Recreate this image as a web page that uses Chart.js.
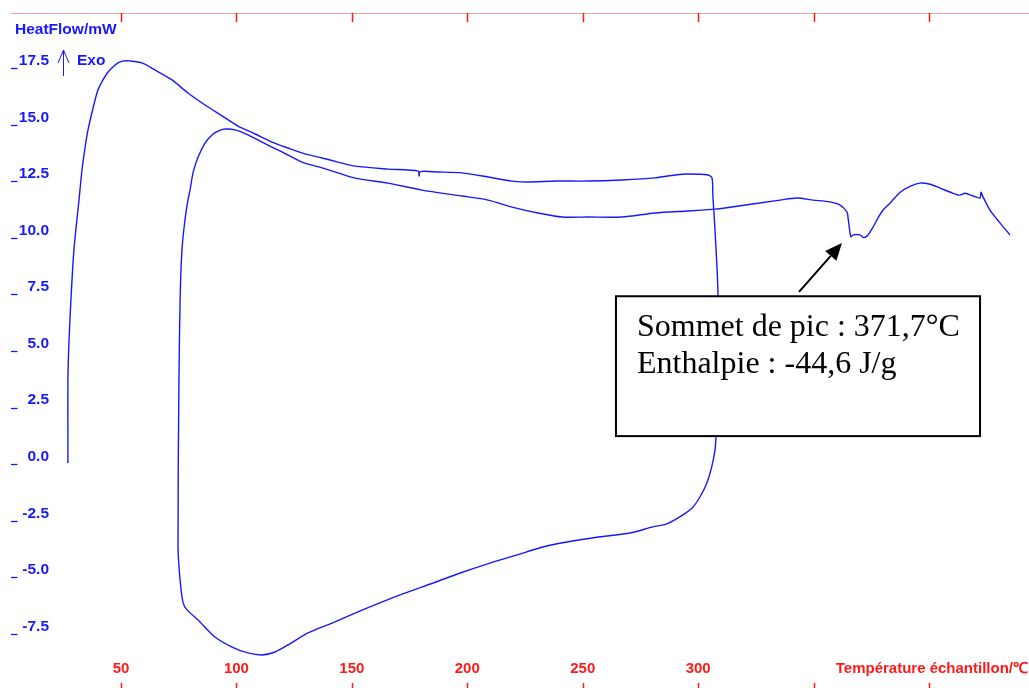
<!DOCTYPE html>
<html lang="fr">
<head>
<meta charset="utf-8">
<title>DSC - HeatFlow</title>
<script src="https://cdn.jsdelivr.net/npm/chart.js@4.4.1/dist/chart.umd.min.js"></script>
<style>
  html, body { margin: 0; padding: 0; background: #fff; }
  #wrap { width: 1029px; height: 688px; position: relative; }
</style>
</head>
<body>
<div id="wrap"><canvas id="dsc"></canvas></div>
<script>
// ==========================================
// Thermogramme DSC : température échantillon (°C) / flux de chaleur (mW)
// ==========================================
const temperature = [
  27.0, 27.0, 27.0, 27.5, 28.3, 29.6, 31.8, 33.1, 34.4, 35.7, 37.9, 40.0, 42.2, 44.4, 46.5, 48.7, 51.3, 53.9,
  59.1, 64.7, 72.1, 79.0, 86.4, 93.8, 100.7, 108.1, 115.4, 122.3, 129.7, 137.1, 144.0, 151.4, 165.7,
  178.7, 179.1, 179.6, 187.3, 197.7, 209.0, 219.4, 226.3, 238.0, 252.3, 267.0, 281.3, 290.0, 295.6,
  304.3, 306.0, 306.4, 307.3, 308.6, 308.2, 307.7, 307.3, 305.9, 303.7, 300.8, 297.8, 293.4, 286.4,
  280.4, 270.5, 257.5, 243.2, 232.8, 221.5, 209.8, 196.9, 185.2, 170.9, 160.0, 151.4, 141.4, 131.0,
  122.3, 116.7, 111.1, 105.0, 98.1, 90.7, 83.4, 78.6, 76.9, 75.6, 74.7, 75.1, 75.6, 76.4, 77.7, 79.0,
  79.9, 81.2, 83.4, 86.4, 89.4, 92.0, 95.1, 99.4, 105.0, 111.1, 119.7, 128.4, 137.1, 144.0, 151.4,
  165.7, 180.4, 197.7, 209.0, 219.4, 230.6, 241.0, 252.3, 267.0, 281.3, 295.6, 307.3, 311.6, 335.5,
  342.8, 349.8, 357.1, 361.5, 364.5, 364.9, 365.8, 366.2, 367.1, 370.1, 371.7, 373.6, 375.8, 377.9,
  380.1, 383.1, 387.5, 391.8, 396.1, 400.4, 404.8, 410.4, 413.4, 415.6, 419.1, 422.1, 422.5, 423.4,
  426.4, 430.8, 435.1
];
const heatFlow = [
  -0.28, 0.74, 3.39, 5.16, 6.92, 9.13, 11.34, 12.67, 13.64, 14.44, 15.41, 16.20, 16.65, 17.00, 17.22, 17.40, 17.49, 17.49,
  17.40, 17.09, 16.65, 16.07, 15.54, 15.06, 14.61, 14.26, 13.90, 13.64, 13.38, 13.20, 13.02, 12.84, 12.71,
  12.62, 12.40, 12.60, 12.58, 12.54, 12.36, 12.18, 12.14, 12.18, 12.18, 12.23, 12.32, 12.45, 12.49,
  12.45, 12.32, 11.48, 10.02, 7.15, 3.00, 0.87, 0.30, -0.44, -1.18, -1.77, -2.22, -2.57, -2.97,
  -3.10, -3.37, -3.54, -3.77, -3.99, -4.34, -4.70, -5.14, -5.58, -6.11, -6.55, -6.91, -7.35, -7.79,
  -8.32, -8.63, -8.76, -8.67, -8.41, -7.97, -7.22, -6.77, -6.46, -5.45, -3.99, 3.39, 6.92, 9.13, 10.46, 11.34,
  11.78, 12.54, 13.24, 13.86, 14.22, 14.39, 14.48, 14.44, 14.22, 13.90, 13.47, 13.02, 12.76, 12.54, 12.31,
  12.09, 11.78, 11.52, 11.34, 11.03, 10.77, 10.59, 10.59, 10.59, 10.77, 10.86, 10.94, 10.99, 11.34,
  11.43, 11.34, 11.26, 11.12, 10.81, 10.59, 9.88, 9.71, 9.80, 9.80, 9.68, 9.80, 10.15, 10.55,
  10.90, 11.20, 11.69, 11.95, 12.09, 12.04, 11.87, 11.64, 11.56, 11.64, 11.52, 11.43, 11.69, 11.48,
  10.90, 10.32, 9.80
];
const xTicks = [50, 100, 150, 200, 250, 300, 350, 400];
const xLabelled = [50, 100, 150, 200, 250, 300];
const yTicks = [17.5, 15.0, 12.5, 10.0, 7.5, 5.0, 2.5, 0.0, -2.5, -5.0, -7.5];

// pic endothermique annoté
const peakTemp = 371.7;
const peakEnthalpy = -44.6;

const BLUE = '#1818ff';
const RED = '#ff1a1a';
const SANS = '"Liberation Sans", Arial, sans-serif';
const SERIF = '"Liberation Serif", "Times New Roman", serif';

const frFmt = v => v.toFixed(1).replace('.', ',');

// ==========================================
// Cadre, graduations et annotation (dessinés via les échelles)
// ==========================================
const dscFrame = {
  id: 'dscFrame',
  afterDatasetsDraw(chart) {
    const { ctx, chartArea: a, scales: { x, y } } = chart;
    ctx.save();

    // ligne du haut
    ctx.strokeStyle = '#f2a4a4'; ctx.lineWidth = 1;
    ctx.beginPath(); ctx.moveTo(11, a.top + 0.5); ctx.lineTo(a.right, a.top + 0.5); ctx.stroke();

    // graduations X (haut et bas)
    ctx.strokeStyle = RED; ctx.lineWidth = 1.5;
    xTicks.forEach(t => {
      const px = Math.round(x.getPixelForValue(t)) + 0.5;
      ctx.beginPath();
      ctx.moveTo(px, a.top); ctx.lineTo(px, a.top + 9);
      ctx.moveTo(px, a.bottom - 5); ctx.lineTo(px, a.bottom);
      ctx.stroke();
    });

    // libellés X
    ctx.fillStyle = RED; ctx.font = 'bold 15px ' + SANS; ctx.textBaseline = 'middle';
    ctx.textAlign = 'center';
    xLabelled.forEach(t => ctx.fillText(String(t), x.getPixelForValue(t), a.bottom - 19));
    ctx.textAlign = 'right';
    ctx.fillText('Température échantillon/℃', a.right - 1, a.bottom - 19);

    // libellés Y + petits tirets
    ctx.fillStyle = BLUE; ctx.strokeStyle = BLUE; ctx.lineWidth = 1.3;
    ctx.font = 'bold 15.5px ' + SANS;
    yTicks.forEach(v => {
      const py = y.getPixelForValue(v);
      ctx.fillText(v.toFixed(1), a.left - 6, py);
      ctx.beginPath(); ctx.moveTo(11, Math.round(py + 7.5) + 0.5); ctx.lineTo(17.5, Math.round(py + 7.5) + 0.5); ctx.stroke();
    });

    // titre Y et flèche Exo
    ctx.textAlign = 'left';
    ctx.fillText('HeatFlow/mW', 15, 30);
    ctx.fillText('Exo', 77, 61);
    ctx.lineWidth = 1;
    ctx.beginPath();
    ctx.moveTo(63.5, 76); ctx.lineTo(63.5, 50);
    ctx.moveTo(58, 63); ctx.lineTo(63.5, 50); ctx.lineTo(69, 63);
    ctx.stroke();

    // encadré du pic
    const bx0 = x.getPixelForValue(264.4), bx1 = x.getPixelForValue(422.1);
    const by0 = y.getPixelForValue(7.09), by1 = y.getPixelForValue(0.91);
    ctx.fillStyle = '#fff'; ctx.fillRect(bx0, by0, bx1 - bx0, by1 - by0);
    ctx.strokeStyle = '#000'; ctx.lineWidth = 2;
    ctx.strokeRect(bx0, by0, bx1 - bx0, by1 - by0);
    ctx.fillStyle = '#000'; ctx.font = '32px ' + SERIF; ctx.textBaseline = 'alphabetic';
    ctx.fillText(`Sommet de pic : ${frFmt(peakTemp)}°C`, bx0 + 21, by0 + 40);
    ctx.fillText(`Enthalpie : ${frFmt(peakEnthalpy)} J/g`, bx0 + 21, by0 + 77);

    // flèche vers le pic
    const tx = x.getPixelForValue(362.3), ty = y.getPixelForValue(9.44);
    const sx = x.getPixelForValue(343.7), sy = y.getPixelForValue(7.28);
    const ang = Math.atan2(ty - sy, tx - sx);
    const hl = 17, hw = 7.5;
    const bxA = tx - hl * Math.cos(ang), byA = ty - hl * Math.sin(ang);
    ctx.beginPath(); ctx.moveTo(sx, sy); ctx.lineTo(bxA, byA); ctx.stroke();
    ctx.beginPath();
    ctx.moveTo(tx, ty);
    ctx.lineTo(bxA + hw * Math.sin(ang), byA - hw * Math.cos(ang));
    ctx.lineTo(bxA - hw * Math.sin(ang), byA + hw * Math.cos(ang));
    ctx.closePath(); ctx.fill();

    ctx.restore();
  }
};

// ==========================================
// Graphique
// ==========================================
const points = temperature.map((t, i) => ({ x: t, y: heatFlow[i] }));

new Chart(document.getElementById('dsc'), {
  type: 'scatter',
  data: {
    datasets: [{
      data: points, showLine: true, borderColor: BLUE, borderWidth: 1.4,
      pointRadius: 0, tension: 0.25, fill: false
    }]
  },
  options: {
    responsive: true, maintainAspectRatio: false, animation: false,
    layout: { padding: { left: 55, top: 13, right: 0, bottom: 0 } },
    scales: {
      x: { type: 'linear', display: false, min: 21.41, max: 443.31 },
      y: { type: 'linear', display: false, min: -10.221, max: 19.607 }
    },
    plugins: { legend: { display: false }, tooltip: { enabled: false } }
  },
  plugins: [dscFrame]
});
</script>
</body>
</html>
